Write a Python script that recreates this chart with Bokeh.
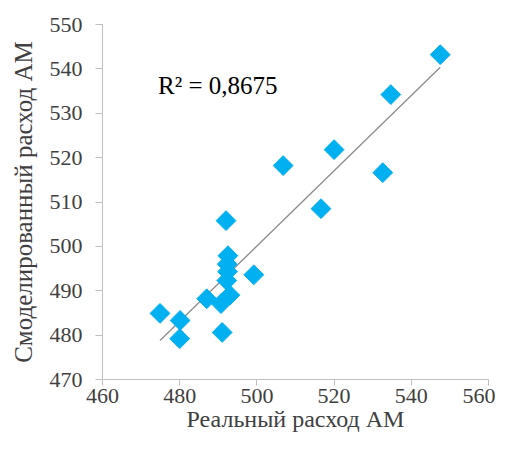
import numpy as np
from bokeh.plotting import figure
from bokeh.models import Label, FixedTicker, Range1d
from bokeh.embed import file_html
from bokeh.resources import INLINE

real = [547.5, 534.7, 520.0, 506.8, 532.6, 516.6, 492.0, 492.5, 492.3, 492.4, 499.2, 487.0, 490.7, 493.0, 474.9, 480.1, 480.0, 491.0, 492.2]
model = [543.2, 534.2, 521.8, 518.2, 516.6, 508.5, 505.8, 497.9, 496.0, 494.3, 493.6, 488.2, 487.1, 489.0, 484.9, 483.3, 479.2, 480.6, 492.3]
x_ticks = [460, 480, 500, 520, 540, 560]
y_ticks = [470, 480, 490, 500, 510, 520, 530, 540, 550]
r2_text = "R² = 0,8675"

W, H = 495, 441
p = figure(width=W, height=H, output_backend="svg", toolbar_location=None,
           x_range=Range1d(460, 560), y_range=Range1d(470, 550),
           min_border_left=102, min_border_right=7, min_border_top=24, min_border_bottom=62)
p.outline_line_color = None
p.xgrid.visible = False
p.ygrid.visible = False

slope, intercept = np.polyfit(real, model, 1)
xs = np.array([min(real), max(real)])
p.line(xs, slope * xs + intercept, line_color="#8C8C8C", line_width=1.3)

p.scatter(real, model, marker="square", size=14, angle=np.pi / 4,
          fill_color="#00B0F0", line_color="#00B0F0")

font = "Liberation Serif"
for ax in (p.xaxis[0], p.yaxis[0]):
    ax.axis_line_color = "#BFBFBF"
    ax.major_tick_line_color = "#BFBFBF"
    ax.minor_tick_line_color = None
    ax.major_tick_in = 0
    ax.major_label_text_font = font
    ax.major_label_text_font_size = "22px"
    ax.major_label_text_color = "#404040"
    ax.axis_label_text_font = font
    ax.axis_label_text_font_style = "normal"
    ax.axis_label_text_color = "#404040"

p.xaxis.major_tick_out = 6
p.yaxis.major_tick_out = 7
p.xaxis.axis_label_text_font_size = "24px"
p.yaxis.axis_label_text_font_size = "25px"
p.xaxis.ticker = FixedTicker(ticks=x_ticks)
p.yaxis.ticker = FixedTicker(ticks=y_ticks)
p.xaxis.axis_label = "Реальный расход АМ"
p.yaxis.axis_label = "Смоделированный расход АМ"
p.xaxis.major_label_standoff = 3
p.yaxis.major_label_standoff = 13
p.xaxis.axis_label_standoff = 0
p.yaxis.axis_label_standoff = 10

p.add_layout(Label(x=474.4, y=536.2, text=r2_text, text_font=font,
                   text_font_size="25px", text_color="#000000",
                   text_baseline="alphabetic"))

open("out.html", "w").write(file_html(p, INLINE))
